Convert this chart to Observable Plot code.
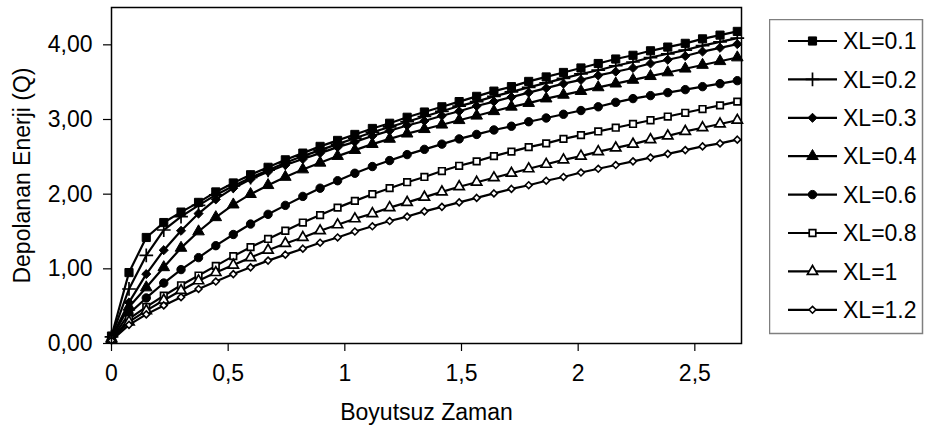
<!DOCTYPE html>
<html><head><meta charset="utf-8">
<script src="https://cdn.jsdelivr.net/npm/d3@7"></script>
<script src="https://cdn.jsdelivr.net/npm/@observablehq/plot@0.6"></script>
<style>
body{margin:0;background:#fff;font-family:"Liberation Sans",Arial,sans-serif}
#wrap{position:relative;width:926px;height:428px;overflow:hidden}
#legend{position:absolute;left:769px;top:19px}
</style></head><body><div id="wrap"><div id="chart"></div><div id="legend"></div></div>
<script>
const time = [0, 0.075, 0.149, 0.224, 0.298, 0.373, 0.447, 0.522, 0.596, 0.671, 0.745, 0.820, 0.894, 0.969, 1.043, 1.118, 1.192, 1.267, 1.341, 1.416, 1.490, 1.565, 1.639, 1.714, 1.788, 1.863, 1.937, 2.012, 2.086, 2.161, 2.235, 2.310, 2.384, 2.459, 2.533, 2.608, 2.682];

const xl01 = [0.10,0.95,1.42,1.62,1.76,1.89,2.03,2.15,2.26,2.36,2.46,2.55,2.64,2.72,2.80,2.88,2.95,3.03,3.10,3.17,3.24,3.31,3.38,3.44,3.51,3.57,3.63,3.69,3.75,3.81,3.86,3.92,3.97,4.02,4.08,4.13,4.18];
const xl02 = [0.09,0.73,1.18,1.52,1.70,1.85,1.99,2.11,2.22,2.32,2.42,2.51,2.59,2.67,2.75,2.83,2.90,2.97,3.04,3.11,3.18,3.24,3.31,3.37,3.43,3.49,3.55,3.61,3.66,3.72,3.77,3.83,3.88,3.93,3.99,4.04,4.09];
const xl03 = [0.08,0.55,0.93,1.25,1.51,1.74,1.93,2.08,2.20,2.30,2.39,2.47,2.55,2.63,2.70,2.78,2.85,2.92,2.98,3.05,3.11,3.18,3.24,3.30,3.36,3.42,3.48,3.53,3.59,3.64,3.69,3.75,3.80,3.85,3.91,3.96,4.01];
const xl04 = [0.07,0.49,0.75,1.02,1.28,1.50,1.69,1.86,2.00,2.12,2.23,2.33,2.42,2.51,2.59,2.67,2.74,2.81,2.87,2.93,2.99,3.05,3.11,3.17,3.22,3.28,3.33,3.38,3.43,3.48,3.53,3.58,3.63,3.68,3.73,3.78,3.83];
const xl06 = [0.06,0.40,0.61,0.81,0.99,1.15,1.31,1.46,1.60,1.73,1.85,1.97,2.08,2.18,2.28,2.37,2.45,2.53,2.60,2.67,2.74,2.80,2.86,2.91,2.97,3.02,3.07,3.12,3.17,3.23,3.28,3.32,3.36,3.40,3.44,3.48,3.52];
const xl08 = [0.05,0.33,0.49,0.64,0.78,0.91,1.04,1.17,1.29,1.40,1.51,1.62,1.72,1.82,1.91,2.00,2.08,2.16,2.23,2.31,2.38,2.44,2.51,2.57,2.63,2.68,2.74,2.79,2.84,2.89,2.94,2.99,3.04,3.09,3.14,3.19,3.24];
const xl10 = [0.05,0.29,0.44,0.58,0.71,0.84,0.95,1.05,1.15,1.25,1.34,1.42,1.51,1.59,1.67,1.74,1.82,1.89,1.96,2.03,2.10,2.16,2.22,2.28,2.34,2.40,2.46,2.51,2.57,2.62,2.67,2.73,2.78,2.84,2.89,2.94,2.99];
const xl12 = [0.04,0.25,0.39,0.51,0.62,0.73,0.83,0.93,1.02,1.11,1.19,1.27,1.35,1.42,1.50,1.57,1.64,1.70,1.77,1.83,1.89,1.95,2.01,2.07,2.12,2.18,2.23,2.29,2.34,2.39,2.44,2.49,2.54,2.59,2.64,2.68,2.73];

const seriesNames = ["XL=0.1","XL=0.2","XL=0.3","XL=0.4","XL=0.6","XL=0.8","XL=1","XL=1.2"];
const seriesValues = [xl01,xl02,xl03,xl04,xl06,xl08,xl10,xl12];
const yTicks = [0,1,2,3,4];
const xTicks = [0,0.5,1,1.5,2,2.5];

const styles = [
  {symbol:"square",   fill:"black", r:4.6, sw:1},
  {symbol:"plus",     fill:"none",  r:4.5, sw:1.7},
  {symbol:"diamond2", fill:"black", r:4.1, sw:1},
  {symbol:"triangle", fill:"black", r:4.3, sw:1},
  {symbol:"circle",   fill:"black", r:4.2, sw:1},
  {symbol:"square",   fill:"white", r:3.7, sw:1.7},
  {symbol:"triangle", fill:"white", r:3.8, sw:1.7},
  {symbol:"diamond2", fill:"white", r:3.1, sw:1.6}
];
const d3sym = {square:d3.symbolSquare, plus:d3.symbolPlus, diamond2:d3.symbolDiamond2, triangle:d3.symbolTriangle, circle:d3.symbolCircle};

const marks = [];
seriesNames.forEach((name, k) => {
  const rows = time.map((t, i) => ({t, q: seriesValues[k][i], name}));
  const st = styles[k];
  marks.push(Plot.line(rows, {x:"t", y:"q", stroke:"black", strokeWidth:2.2}));
  marks.push(Plot.dot(rows, {x:"t", y:"q", symbol:st.symbol, r:st.r, fill:st.fill, stroke:"black", strokeWidth:st.sw}));
});

const fmtY = d => d.toFixed(2).replace(".", ",");
const fmtX = d => String(d).replace(".", ",");
const FS = 23;

const chart = Plot.plot({
  width: 926, height: 428,
  marginLeft: 111, marginRight: 185, marginTop: 7, marginBottom: 85,
  style: {fontFamily: "'Liberation Sans', Arial, sans-serif", fontSize: FS + "px", color: "black", background: "white"},
  x: {domain: [0, 2.7]},
  y: {domain: [0, 4.5]},
  marks: [
    Plot.axisX({ticks: xTicks, tickFormat: fmtX, tickSize: 8, tickPadding: 13, label: null, stroke:"black", strokeWidth:1.2, fontSize: FS}),
    Plot.axisY({ticks: yTicks, tickFormat: fmtY, tickSize: 8, tickPadding: 11, label: null, stroke:"black", strokeWidth:1.2, fontSize: FS}),
    ...marks,
    Plot.frame({stroke: "black", strokeWidth: 1.5}),
    Plot.text(["Depolanan Enerji (Q)"], {frameAnchor: "left", dx: -89, rotate: -90, textAnchor: "middle", lineAnchor: "middle", fontSize: FS, fill: "black"}),
    Plot.text(["Boyutsuz Zaman"], {frameAnchor: "bottom", dy: 69, textAnchor: "middle", lineAnchor: "middle", fontSize: FS, fill: "black"})
  ]
});
document.getElementById("chart").append(chart);

// Legend
const W = 153, H = 314;
const svg = d3.select("#legend").append("svg").attr("width", W + 2).attr("height", H + 2);
svg.append("rect").attr("x", 0.5).attr("y", 0.5).attr("width", W).attr("height", H)
  .attr("fill", "white").attr("stroke", "#7f7f7f").attr("stroke-width", 1.5);
seriesNames.forEach((name, k) => {
  const y = 22 + k * 38.4;
  const st = styles[k];
  const g = svg.append("g").attr("transform", `translate(0,${y})`);
  g.append("line").attr("x1", 19).attr("x2", 68).attr("y1", 0).attr("y2", 0).attr("stroke", "black").attr("stroke-width", 2.2);
  g.append("path").attr("transform", "translate(43.5,0)")
    .attr("d", d3.symbol(d3sym[st.symbol], st.r * st.r * Math.PI)())
    .attr("fill", st.fill).attr("stroke", "black").attr("stroke-width", st.sw);
  g.append("text").attr("x", 74).attr("y", 0).attr("dy", "0.36em")
    .attr("font-size", FS).attr("font-family", "'Liberation Sans', Arial, sans-serif").text(name);
});
</script></body></html>
